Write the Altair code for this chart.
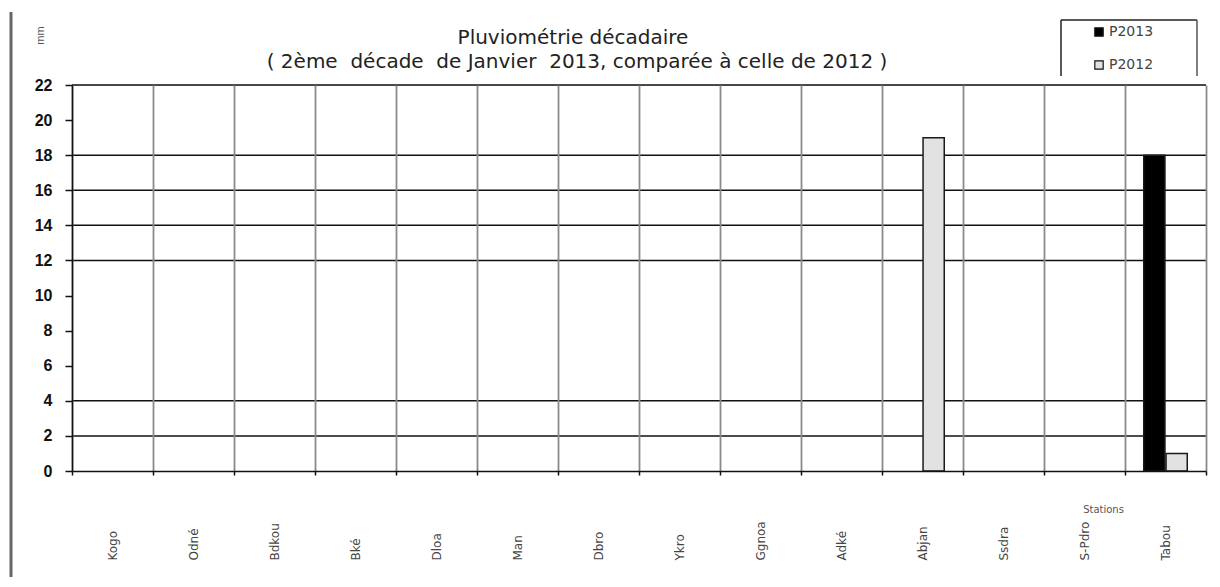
import altair as alt
import pandas as pd

# ---- data ----
stations = ["Kogo", "Odné", "Bdkou", "Bké", "Dloa", "Man", "Dbro", "Ykro",
            "Ggnoa", "Adké", "Abjan", "Ssdra", "S-Pdro", "Tabou"]
p2013 = [0, 0, 0, 0, 0, 0, 0, 0, 0, 0, 0, 0, 0, 18]
p2012 = [0, 0, 0, 0, 0, 0, 0, 0, 0, 0, 19, 0, 0, 1]
series = ["P2013", "P2012"]
y_ticks = list(range(0, 23, 2))
grid_lines = [2, 4, 12, 14, 16, 18, 22]
NB = "\u00a0"
title_l1 = "Pluviométrie décadaire"
title_l2 = f"(\u00a02ème{NB}{NB}décade{NB}{NB}de Janvier{NB}{NB}2013, comparée à celle de 2012\u00a0)"

rows = []
for s, a, b in zip(stations, p2013, p2012):
    rows.append({"station": s, "serie": "P2013", "val": a})
    rows.append({"station": s, "serie": "P2012", "val": b})
df = pd.DataFrame(rows)

FONT = "Liberation Sans"
FONT2 = "DejaVu Sans"
W, H = 1134, 386

yscale = alt.Scale(domain=[0, 22], nice=False, zero=True)
one = pd.DataFrame({"k": [0]})

y_axis = alt.Axis(values=y_ticks, grid=False, domainColor="#111111", domainWidth=1.5,
                  tickSize=7, tickColor="#111111", tickWidth=1.5,
                  labelFontSize=16, labelFontWeight="bold", labelColor="#111111",
                  labelPadding=13, labelFont=FONT, zindex=1,
                  title="mm", titleAngle=270, titleX=-32, titleY=-50,
                  titleFontSize=11, titleFontWeight="normal", titleColor="#555555",
                  titleAlign="center", titleBaseline="middle", titleFont=FONT)

grid = alt.Chart(pd.DataFrame({"val": grid_lines})).mark_rule(
    color="#111111", strokeWidth=1.5
).encode(
    y=alt.Y("val:Q", scale=yscale, axis=y_axis),
    x=alt.value(0), x2=alt.value(W)
)

bars = alt.Chart(df).mark_bar(stroke="#1a1a1a", strokeWidth=1.5).encode(
    x=alt.X("station:N", sort=stations,
            scale=alt.Scale(paddingInner=0, paddingOuter=0),
            axis=alt.Axis(title="Stations", titleAngle=0, titleX=1031, titleY=38,
                          titleFontSize=10, titleFontWeight="normal", titleColor="#555555",
                          titleFont=FONT2, titleAlign="center", titleBaseline="middle",
                          labelAngle=270, labelAlign="left", labelBaseline="middle",
                          labelPadding=85, labelFontSize=12, labelColor="#444444",
                          labelFont=FONT2, labelOverlap=False, zindex=1,
                          tickBand="extent", tickSize=4, tickColor="#111111", tickWidth=1.5,
                          domainColor="#111111", domainWidth=1.5,
                          grid=True, gridColor="#8a8a8a", gridWidth=1.8)),
    xOffset=alt.XOffset("serie:N", sort=series,
                        scale=alt.Scale(domain=series, paddingOuter=0.84, paddingInner=0.05)),
    y=alt.Y("val:Q", scale=yscale, axis=y_axis),
    strokeOpacity=alt.condition(alt.datum.val > 0, alt.value(1), alt.value(0)),
    color=alt.Color("serie:N",
                    scale=alt.Scale(domain=series, range=["#000000", "#e2e2e2"]),
                    legend=alt.Legend(orient="none", legendX=1020, legendY=-60, title=None,
                                      symbolType="square", symbolSize=70,
                                      symbolStrokeColor="#111111", symbolStrokeWidth=1.2,
                                      labelFontSize=14, labelColor="#444444", labelFont=FONT2,
                                      rowPadding=19, padding=0, labelOffset=3))
)

t1 = alt.Chart(pd.DataFrame({"t": [title_l1]})).mark_text(
    fontSize=20, font=FONT2, color="#222222", baseline="middle"
).encode(text="t:N", x=alt.value(501), y=alt.value(-47))

t2 = alt.Chart(pd.DataFrame({"t": [title_l2]})).mark_text(
    fontSize=20, font=FONT2, color="#222222", baseline="middle"
).encode(text="t:N", x=alt.value(505), y=alt.value(-23))

box_top = alt.Chart(one).mark_rule(color="#222222", strokeWidth=1.5).encode(
    x=alt.value(989), x2=alt.value(1125), y=alt.value(-65), y2=alt.value(-65))
box_left = alt.Chart(one).mark_rule(color="#222222", strokeWidth=1.5).encode(
    x=alt.value(989), x2=alt.value(989), y=alt.value(-65), y2=alt.value(-9))
box_right = alt.Chart(one).mark_rule(color="#555555", strokeWidth=1.5).encode(
    x=alt.value(1125), x2=alt.value(1125), y=alt.value(-65), y2=alt.value(-9))
frame = alt.Chart(one).mark_rule(color="#666666", strokeWidth=3).encode(
    x=alt.value(-61), x2=alt.value(-61), y=alt.value(-73), y2=alt.value(494))

chart = alt.layer(grid, bars, t1, t2, box_top, box_left, box_right, frame).properties(
    width=W, height=H,
    autosize=alt.AutoSizeParams(type="none"),
    padding={"left": 64, "top": 77, "right": 4, "bottom": 106},
).configure_view(stroke=None).configure(background="white")

chart.save("out.html", embed_options={"renderer": "svg", "actions": False})
